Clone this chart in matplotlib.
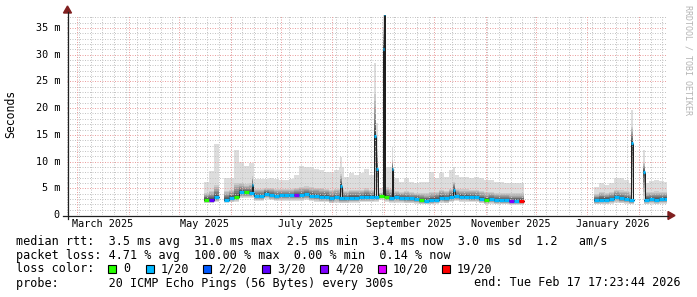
import numpy as np
import pandas as pd
import matplotlib
matplotlib.use("Agg")
import matplotlib.pyplot as plt
import matplotlib.dates as mdates
from matplotlib.patches import Rectangle, Polygon
from matplotlib.lines import Line2D
from matplotlib.transforms import blended_transform_factory

plt.rcParams['font.family'] = ['DejaVu Sans Mono']

# ---- data (values in ms) ----
end_time = pd.Timestamp("2026-02-17 17:23:44")
start_time = end_time - pd.Timedelta(days=360)

# one smoke column every 3 days from 2025-05-16
col_start = pd.date_range("2025-05-16", periods=93, freq="3D")
nan = np.nan
med = [2.9, 2.9, 3.3, nan, 2.9, 3.2, 3.3, 4.25, 4.25, 4.2,
       3.55, 3.55, 4.0, 3.75, 3.55, 3.65, 3.65, 3.65, 3.7, 3.7,
       3.9, 3.6, 3.55, 3.45, 3.45, 3.1, 3.3, 3.1, 3.1, 3.2,
       3.2, 3.3, 3.4, 3.4, 3.4, 3.6, 3.45, 3.2, 3.3, 3.2,
       3.1, 3.1, 3.0, 2.75, 2.7, 2.8, 2.9, 3.2, 3.1, 3.4,
       3.55, 3.45, 3.45, 3.3, 3.3, 3.0, 2.8, 3.0, 2.8, 2.8,
       2.8, 2.7, 2.7, 2.7] + [nan] * 14 + \
      [2.8, 2.9, 2.9, 3.0, 3.3, 3.1, 3.0, 2.8, nan, nan,
       2.9, 3.0, 2.9, 3.0, 3.05]
lo = [2.2, 2.2, 2.4, nan, 2.3, 2.4, 2.5, 3.2, 3.2, 3.2,
      2.6, 2.6, 3.0, 2.8, 2.6, 2.7, 2.7, 2.7, 2.7, 2.7,
      2.8, 2.6, 2.5, 2.4, 2.4, 2.2, 2.3, 2.2, 2.2, 2.3,
      2.3, 2.4, 2.4, 2.4, 2.5, 2.9, 2.5, 2.3, 2.3, 2.3,
      2.2, 2.2, 2.1, 2.0, 2.0, 2.0, 2.1, 2.3, 2.2, 2.4,
      2.6, 2.5, 2.5, 2.4, 2.4, 2.2, 2.0, 2.1, 2.0, 2.0,
      2.0, 1.9, 1.9, 1.9] + [nan] * 14 + \
     [2.0, 2.0, 2.0, 2.1, 2.3, 2.2, 2.1, 2.0, nan, nan,
      2.0, 2.1, 2.0, 2.1, 2.1]
hi = [4.4, 4.8, 6.0, nan, 4.8, 5.0, 6.5, 6.3, 6.0, 6.2,
      5.0, 5.0, 5.3, 5.2, 5.0, 5.0, 5.0, 5.1, 5.3, 5.6,
      5.6, 5.5, 5.4, 5.3, 5.2, 5.0, 5.2, 5.2, 4.8, 5.0,
      5.0, 5.0, 5.3, 5.0, 5.0, 4.2, 5.5, 5.2, 4.8, 4.6,
      4.7, 4.5, 4.4, 4.3, 4.3, 4.6, 4.6, 5.0, 4.8, 5.2,
      5.1, 5.0, 5.0, 4.9, 5.0, 4.8, 4.6, 4.6, 4.4, 4.4,
      4.3, 4.3, 4.3, 4.3] + [nan] * 14 + \
     [4.2, 4.5, 4.4, 4.5, 5.0, 4.9, 4.8, 4.5, nan, nan,
      4.5, 4.6, 4.7, 4.6, 4.6]
top = [6.2, 8.2, 13.3, nan, 7.0, 7.0, 12.2, 10.0, 9.2, 9.8,
       6.7, 6.7, 6.7, 7.0, 6.8, 6.6, 6.6, 6.8, 7.5, 9.2,
       9.0, 9.0, 8.7, 8.4, 8.1, 8.1, 8.5, 9.0, 7.2, 7.8,
       7.5, 7.8, 8.7, 7.5, 7.5, 5.0, 9.0, 9.0, 6.9, 6.2,
       6.9, 6.2, 6.0, 6.2, 6.2, 8.1, 6.9, 7.8, 7.2, 8.5,
       7.5, 7.2, 7.2, 6.9, 7.2, 6.9, 6.6, 6.6, 6.2, 6.2,
       5.9, 5.9, 5.9, 5.9] + [nan] * 14 + \
      [5.2, 5.9, 5.6, 5.9, 6.9, 6.9, 6.5, 5.9, nan, nan,
       6.0, 6.3, 6.5, 6.3, 6.2]
loss = [0, 3, 1, 1, 1, 1, 0, 1, 0, 1,
        1, 1, 1, 1, 1, 1, 1, 1, 4, 1,
        1, 1, 1, 1, 1, 1, 1, 1, 1, 1,
        1, 1, 1, 1, 1, 0, 0, 1, 1, 1,
        1, 1, 1, 0, 1, 1, 1, 1, 1, 1,
        1, 1, 1, 1, 1, 1, 0, 1, 1, 1,
        1, 4, 1, 19] + [1] * 14 + \
       [1, 1, 1, 1, 1, 1, 1, 1, 1, 1,
        1, 1, 1, 1, 1]

# short latency spikes
spike_start = ["2025-06-13 18:00", "2025-08-05 12:00", "2025-08-26 05:00",
               "2025-08-27 10:00", "2025-08-31 07:00", "2025-08-31 22:00",
               "2025-09-05 17:00", "2025-10-12 07:00", "2026-01-27 10:00",
               "2026-02-03 14:00"]
spike_end = ["2025-06-14 14:00", "2025-08-06 12:00", "2025-08-27 10:00",
             "2025-08-28 14:00", "2025-08-31 22:00", "2025-09-01 12:00",
             "2025-09-06 14:00", "2025-10-13 12:00", "2026-01-28 14:00",
             "2026-02-04 06:00"]
spike_med = [5.6, 5.5, 14.8, 8.6, 31.0, 37.6, 8.7, 4.7, 13.5, 8.1]
spike_lo = [3.5, 3.0, 3.0, 3.0, 3.0, 3.0, 3.0, 3.0, 2.5, 2.8]
spike_hi = [7.5, 8.0, 24.0, 13.0, 36.0, 37.6, 10.5, 6.5, 17.0, 10.0]
spike_top = [9.8, 10.9, 28.4, 17.2, 37.4, 37.6, 12.8, 9.0, 19.6, 12.2]

loss_levels = [0, 1, 2, 3, 4, 10, 19]
loss_labels = ["0", "1/20", "2/20", "3/20", "4/20", "10/20", "19/20"]
loss_colors = ["#26ff00", "#00b8ff", "#0059ff", "#5e00ff", "#7e00ff", "#dd00ff", "#ff0000"]

rtt_stats = [3.5, 31.0, 2.5, 3.4, 3.0]   # avg max min now sd
rtt_amps = 1.2
loss_stats = [4.71, 100.00, 0.00, 0.14]  # avg max min now

# ---- figure ----
W, H = 697, 297
X0, Y0, PW, PH = 67, 215, 600, 200
YMAX = 37.43

fig = plt.figure(figsize=(W / 100, H / 100), dpi=100)
fig.patch.set_facecolor("white")
ax = fig.add_axes([X0 / W, (H - Y0) / H, PW / W, PH / H])
ax.axis("off")
t0, t1 = mdates.date2num(start_time), mdates.date2num(end_time)
ax.set_xlim(t0, t1)
ax.set_ylim(0, YMAX)


def px(x, y):
    return x / W, 1 - y / H


def smoke(x, w, lo_, med_, hi_, top_):
    lo_, med_, hi_, top_ = map(np.asarray, (lo_, med_, hi_, top_))
    ax.bar(x, top_ - lo_, w, bottom=lo_, align="edge", color="#dddddd",
           lw=0, antialiased=False, zorder=1)
    for k in range(1, 10):
        g = 221 - 19 * k
        f = (1 - k / 10) ** 1.5
        lower = med_ - (med_ - lo_) * f
        upper = med_ + (hi_ - med_) * f
        ax.bar(x, upper - lower, w, bottom=lower, align="edge",
               color="#%02x%02x%02x" % (g, g, g), lw=0, antialiased=False, zorder=1)


def loss_color(n):
    return loss_colors[loss_levels.index(n)]


# body smoke
xs = mdates.date2num(col_start)
smoke(xs, 3, lo, med, hi, top)

# spike smoke
s0 = mdates.date2num(pd.to_datetime(spike_start))
s1 = mdates.date2num(pd.to_datetime(spike_end))
smoke(s0, s1 - s0, spike_lo, spike_med, spike_hi, spike_top)

# grid (rrdtool style dotted)
dots = (0, (1, 1.5))
minor_c, major_c = "#c4c4c4", "#eba0a0"
weeks = pd.date_range("2025-02-23", end_time, freq="W-SUN")
for d in weeks:
    ax.axvline(mdates.date2num(d), color=minor_c, lw=0.72, ls=dots, zorder=2)
for v in range(1, 38):
    if v % 5:
        ax.axhline(v, color=minor_c, lw=0.72, ls=dots, zorder=2)
months = pd.date_range("2025-03-01", end_time, freq="MS")
for d in months:
    ax.axvline(mdates.date2num(d), color=major_c, lw=0.72, ls=dots, zorder=2)
for v in range(5, 36, 5):
    ax.axhline(v, color=major_c, lw=0.72, ls=dots, zorder=2)

# median: black step line + loss coloured segments
edges = np.append(xs, xs[-1] + 3)
ax.step(edges, list(med) + [med[-1]], where="post", color="#202020", lw=0.72, zorder=3)
ax.hlines(med, xs, xs + 3, colors=[loss_color(n) for n in loss], lw=2.3,
          capstyle="butt", zorder=4)
med_arr = np.asarray(med)
for a, b, m in zip(s0, s1, spike_med):
    for edge in (a, b):
        i = int(np.clip(np.searchsorted(xs, edge, side="right") - 1, 0, len(xs) - 1))
        base = med_arr[i]
        if not np.isnan(base):
            ax.vlines(edge, min(base, m), max(base, m), color="#202020", lw=0.72, zorder=3)
    ax.hlines(m, a, b, colors="#00b8ff", lw=2.3, capstyle="butt", zorder=4)

# axis labels
ytr = blended_transform_factory(ax.transAxes, ax.transData)
for v in range(0, 36, 5):
    ax.text(-7 / PW, v, "0" if v == 0 else "%d m" % v, transform=ytr,
            ha="right", va="center", fontsize=7.3, clip_on=False)
xtr = blended_transform_factory(ax.transData, ax.transAxes)
for m in ["2025-03-01", "2025-05-01", "2025-07-01", "2025-09-01", "2025-11-01", "2026-01-01"]:
    d = pd.Timestamp(m)
    ax.text(mdates.date2num(d + pd.Timedelta(days=15)), -9 / PH, d.strftime("%B %Y"),
            transform=xtr, ha="center", va="center", fontsize=7.3, clip_on=False)

fig.text(*px(11, 114), "Seconds", rotation=90, ha="center", va="center", fontsize=8.3)
fig.text(*px(688, 60), "RRDTOOL / TOBI OETIKER", rotation=270, ha="center", va="center",
         fontsize=6, color="#b4b4b4")

# axes with arrows
axis_col, arrow_col = "#1f1f1f", "#801f1f"
fig.add_artist(Line2D([63 / W, 668 / W], [1 - 215.5 / H] * 2, color=axis_col, lw=0.9,
                      transform=fig.transFigure))
fig.add_artist(Line2D([67.5 / W] * 2, [1 - 219 / H, 1 - 12 / H], color=axis_col, lw=0.9,
                      transform=fig.transFigure))
fig.add_artist(Polygon([px(668, 211.5), px(668, 219.5), px(675, 215.5)], closed=True,
                       color=arrow_col, transform=fig.transFigure))
fig.add_artist(Polygon([px(63.5, 13), px(71.5, 13), px(67.5, 6)], closed=True,
                       color=arrow_col, transform=fig.transFigure))

# legend block
fs = 8.5
line1 = "median rtt:  %.1f ms avg  %.1f ms max  %.1f ms min  %.1f ms now  %.1f ms sd  %.1f   am/s" % (
    *rtt_stats, rtt_amps)
line2 = "packet loss: %.2f %% avg  %.2f %% max  %.2f %% min  %.2f %% now" % tuple(loss_stats)
fig.text(*px(16, 241), line1, ha="left", va="center", fontsize=fs)
fig.text(*px(16, 255), line2, ha="left", va="center", fontsize=fs)
fig.text(*px(16, 269), "loss color:", ha="left", va="center", fontsize=fs)
box_x = [108, 146, 203, 262, 320, 378, 442]
for bx, c, lab in zip(box_x, loss_colors, loss_labels):
    fig.add_artist(Rectangle(px(bx, 273), 8 / W, 8 / H, facecolor=c, edgecolor="black",
                             lw=0.8, transform=fig.transFigure))
    fig.text(*px(bx + 15, 269), lab, ha="left", va="center", fontsize=fs)
fig.text(*px(16, 283), "probe:       20 ICMP Echo Pings (56 Bytes) every 300s",
         ha="left", va="center", fontsize=fs)
fig.text(*px(681, 283), "end: " + end_time.strftime("%a %b %d %H:%M:%S %Y"),
         ha="right", va="center", fontsize=fs)

fig.savefig("out.png", dpi=100, facecolor="white")
